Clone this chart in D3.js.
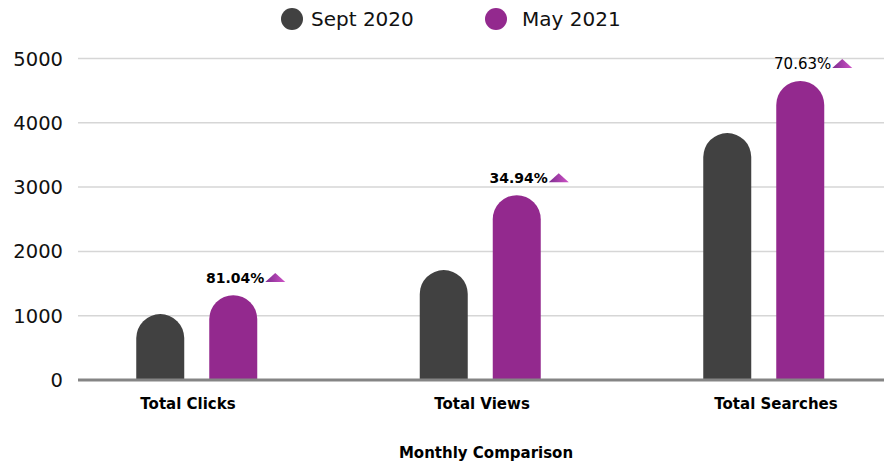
<!DOCTYPE html>
<html>
<head>
<meta charset="utf-8">
<script src="https://cdn.jsdelivr.net/npm/d3@7"></script>
<style>
  body { margin: 0; background: #fff; }
  svg { display: block; font-family: "DejaVu Sans", Verdana, sans-serif; }
</style>
</head>
<body>
<svg id="chart"></svg>
<script>
// chart data
var categories = ["Total Clicks", "Total Views", "Total Searches"];
var seriesNames = ["Sept 2020", "May 2021"];
var sept2020 = [1025, 1710, 3840];
var may2021 = [1320, 2875, 4650];
var changeLabels = ["81.04%", "34.94%", "70.63%"];
var yTicks = [0, 1000, 2000, 3000, 4000, 5000];

var colors = ["#414141", "#93298e"];
var svgWidth = 884, svgHeight = 469;

var svg = d3.select("#chart")
    .attr("width", svgWidth)
    .attr("height", svgHeight);

var defs = svg.append("defs");
var grad = defs.append("linearGradient").attr("id", "tri").attr("x1", "0").attr("x2", "1");
grad.append("stop").attr("offset", "0").attr("stop-color", "#7d2c8f");
grad.append("stop").attr("offset", "1").attr("stop-color", "#cf52c6");

var y = d3.scaleLinear().domain([0, 5000]).range([380, 58.5]);

// groups
var x0 = d3.scaleBand().domain(categories).range([55, 905.5]);
var x1 = d3.scaleBand().domain(seriesNames).range([-60.5, 60.5]).paddingInner(0.3425);
var xl = d3.scalePoint().domain(categories).range([188, 776]);

// gridlines + y labels
var yAxis = svg.append("g");
yAxis.selectAll("line.grid")
    .data(yTicks.filter(function(d) { return d > 0; }))
    .enter().append("line")
    .attr("x1", 78).attr("x2", svgWidth)
    .attr("y1", function(d) { return y(d); })
    .attr("y2", function(d) { return y(d); })
    .attr("stroke", "#d6d6d6")
    .attr("stroke-width", 1.5);

yAxis.selectAll("text")
    .data(yTicks)
    .enter().append("text")
    .attr("x", 63)
    .attr("y", function(d) { return y(d) + 7; })
    .attr("text-anchor", "end")
    .attr("font-size", 19.5)
    .attr("fill", "#111")
    .text(function(d) { return d; });

// bars with rounded tops
function barPath(cx, w, top, bottom) {
  var r = w / 2;
  var left = cx - r, right = cx + r;
  var arcY = Math.min(top + r, bottom);
  return "M" + left + "," + bottom +
    "L" + left + "," + arcY +
    "A" + r + "," + r + " 0 0 1 " + right + "," + arcY +
    "L" + right + "," + bottom + "Z";
}

var allSeries = [sept2020, may2021];
var bw = x1.bandwidth();

categories.forEach(function(cat, i) {
  var g = svg.append("g").attr("transform", "translate(" + (x0(cat) + x0.bandwidth() / 2) + ",0)");
  allSeries.forEach(function(vals, s) {
    var cx = x1(seriesNames[s]) + bw / 2;
    g.append("path")
        .attr("d", barPath(cx, bw, y(vals[i]), y(0)))
        .attr("fill", colors[s]);
  });

  // change label above the May bar
  var mx = x1(seriesNames[1]) + bw / 2 + 31;
  var ty = y(may2021[i]) - 12;
  g.append("text")
      .attr("x", mx)
      .attr("y", ty)
      .attr("text-anchor", "end")
      .attr("font-size", i < 2 ? 14 : 15)
      .attr("font-weight", i < 2 ? "bold" : "normal")
      .attr("fill", "#000")
      .text(changeLabels[i]);
  g.append("path")
      .attr("d", "M" + (mx + 1) + "," + (ty - 1) + "L" + (mx + 11) + "," + (ty - 10) + "L" + (mx + 21) + "," + (ty - 1) + "Z")
      .attr("fill", "url(#tri)");
});

// baseline
svg.append("line")
    .attr("x1", 78).attr("x2", svgWidth)
    .attr("y1", y(0)).attr("y2", y(0))
    .attr("stroke", "#858585")
    .attr("stroke-width", 3);

// category labels
svg.selectAll("text.cat")
    .data(categories)
    .enter().append("text")
    .attr("class", "cat")
    .attr("x", function(d) { return xl(d); })
    .attr("y", 409)
    .attr("text-anchor", "middle")
    .attr("font-size", 15)
    .attr("font-weight", "bold")
    .attr("fill", "#000")
    .text(function(d) { return d; });

svg.append("text")
    .attr("x", 486)
    .attr("y", 458)
    .attr("text-anchor", "middle")
    .attr("font-size", 15)
    .attr("font-weight", "bold")
    .attr("fill", "#000")
    .text("Monthly Comparison");

// legend
var legendX = [292, 496];
var legend = svg.append("g");
seriesNames.forEach(function(name, s) {
  legend.append("circle")
      .attr("cx", legendX[s]).attr("cy", 19).attr("r", 11)
      .attr("fill", colors[s]);
  legend.append("text")
      .attr("x", legendX[s] + (s == 0 ? 19 : 26))
      .attr("y", 26)
      .attr("font-size", 20)
      .attr("fill", "#111")
      .text(name);
});
</script>
</body>
</html>
